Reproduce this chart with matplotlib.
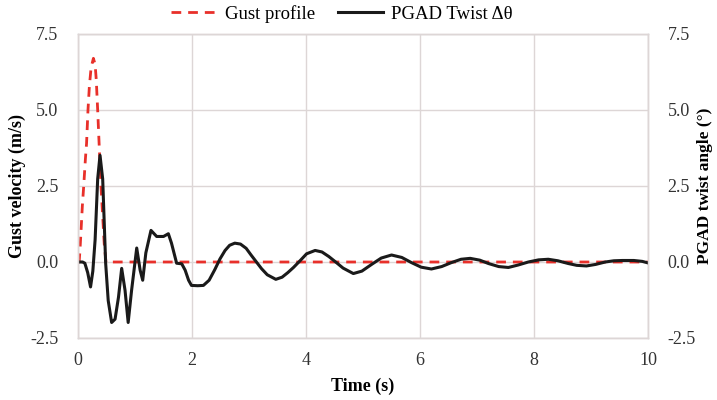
import matplotlib.pyplot as plt

plt.rcParams['font.family'] = ['Liberation Serif', 'DejaVu Serif']

# gust profile (m/s)
gust_t = [0.0, 0.02, 0.035, 0.055, 0.076, 0.10, 0.13, 0.15, 0.175, 0.20,
          0.23, 0.27, 0.30, 0.32, 0.345, 0.37, 0.40, 0.43, 0.46, 0.49, 10.0]
gust_v = [0.0, 0.0, 0.4, 1.1, 1.84, 2.5, 3.4, 3.9, 5.0, 5.8,
          6.4, 6.7, 6.5, 6.0, 5.0, 3.9, 2.6, 1.6, 0.6, 0.0, 0.0]

# PGAD twist response (deg)
twist_t = [0.0, 0.08, 0.12, 0.17, 0.22, 0.26, 0.30, 0.345, 0.386, 0.433,
           0.485, 0.53, 0.59, 0.65, 0.71, 0.766, 0.825, 0.88, 0.94, 1.03,
           1.09, 1.135, 1.19, 1.28, 1.38, 1.50, 1.585, 1.64, 1.73, 1.82,
           1.88, 1.94, 1.99, 2.1, 2.2, 2.3, 2.4, 2.49, 2.58, 2.66,
           2.75, 2.85, 2.95, 3.04, 3.13, 3.22, 3.32, 3.47, 3.58, 3.68,
           3.78, 3.9, 4.01, 4.16, 4.28, 4.4, 4.52, 4.65, 4.83, 4.98,
           5.15, 5.32, 5.5, 5.68, 5.85, 6.02, 6.2, 6.38, 6.55, 6.72,
           6.88, 7.05, 7.2, 7.38, 7.55, 7.72, 7.9, 8.08, 8.25, 8.42,
           8.6, 8.75, 8.92, 9.08, 9.25, 9.4, 9.55, 9.75, 9.9, 10.0]
twist_v = [0.0, 0.0, -0.04, -0.35, -0.82, -0.3, 0.73, 2.73, 3.51, 2.73,
           -0.04, -1.27, -1.99, -1.88, -1.16, -0.21, -0.93, -1.99, -0.93, 0.46,
           -0.27, -0.6, 0.3, 1.04, 0.84, 0.84, 0.93, 0.62, -0.04, -0.06,
           -0.27, -0.6, -0.77, -0.78, -0.77, -0.6, -0.25, 0.1, 0.38, 0.55,
           0.62, 0.59, 0.45, 0.22, 0.0, -0.22, -0.42, -0.57, -0.5, -0.35,
           -0.18, 0.05, 0.27, 0.38, 0.33, 0.18, 0.0, -0.2, -0.38, -0.3,
           -0.08, 0.13, 0.23, 0.15, -0.02, -0.17, -0.23, -0.15, -0.02, 0.09,
           0.12, 0.06, -0.05, -0.15, -0.18, -0.1, 0.0, 0.07, 0.09, 0.04,
           -0.05, -0.11, -0.13, -0.08, 0.0, 0.04, 0.05, 0.05, 0.02, -0.03]

fig = plt.figure(figsize=(7.17, 4.0), dpi=100)
ax = fig.add_axes([0.1088, 0.155, 0.795, 0.76])
ax2 = ax.twinx()

l1, = ax.plot(gust_t, gust_v, color='#e8302a', lw=2.0, ls=(0, (3.5, 2.5)),
              label='Gust profile')
l2, = ax2.plot(twist_t, twist_v, color='#1a1a1a', lw=2.2,
               solid_joinstyle='round', label='PGAD Twist Δθ')

for a in (ax, ax2):
    a.set_ylim(-2.5, 7.5)
    a.set_yticks([-2.5, 0.0, 2.5, 5.0, 7.5])
    a.set_yticklabels(['-2.5', '0.0', '2.5', '5.0', '7.5'])
    a.tick_params(length=0, labelsize=13, colors='#333333', pad=14)
    for s in a.spines.values():
        s.set_color('#ddd6d6')
        s.set_linewidth(1.0)

ax.set_xlim(0, 10)
ax.set_xticks([0, 2, 4, 6, 8, 10])
ax.tick_params(axis='x', pad=10)
ax.grid(True, color='#ddd6d6', lw=1.0)
ax.set_axisbelow(True)
ax2.set_zorder(ax.get_zorder() + 1)
ax2.patch.set_visible(False)

ax.set_xlabel('Time (s)', fontsize=13, fontweight='bold', labelpad=6)
ax.set_ylabel('Gust velocity (m/s)', fontsize=13, fontweight='bold', labelpad=3)
ax2.set_ylabel('PGAD twist angle (°)', fontsize=12.5, fontweight='bold', labelpad=1)

fig.legend(handles=[l1, l2], loc='center', bbox_to_anchor=(0.477, 0.965),
           ncol=2, frameon=False, fontsize=13.5, handlelength=2.4,
           columnspacing=1.2, handletextpad=0.45)

fig.savefig('out.png', dpi=100)
